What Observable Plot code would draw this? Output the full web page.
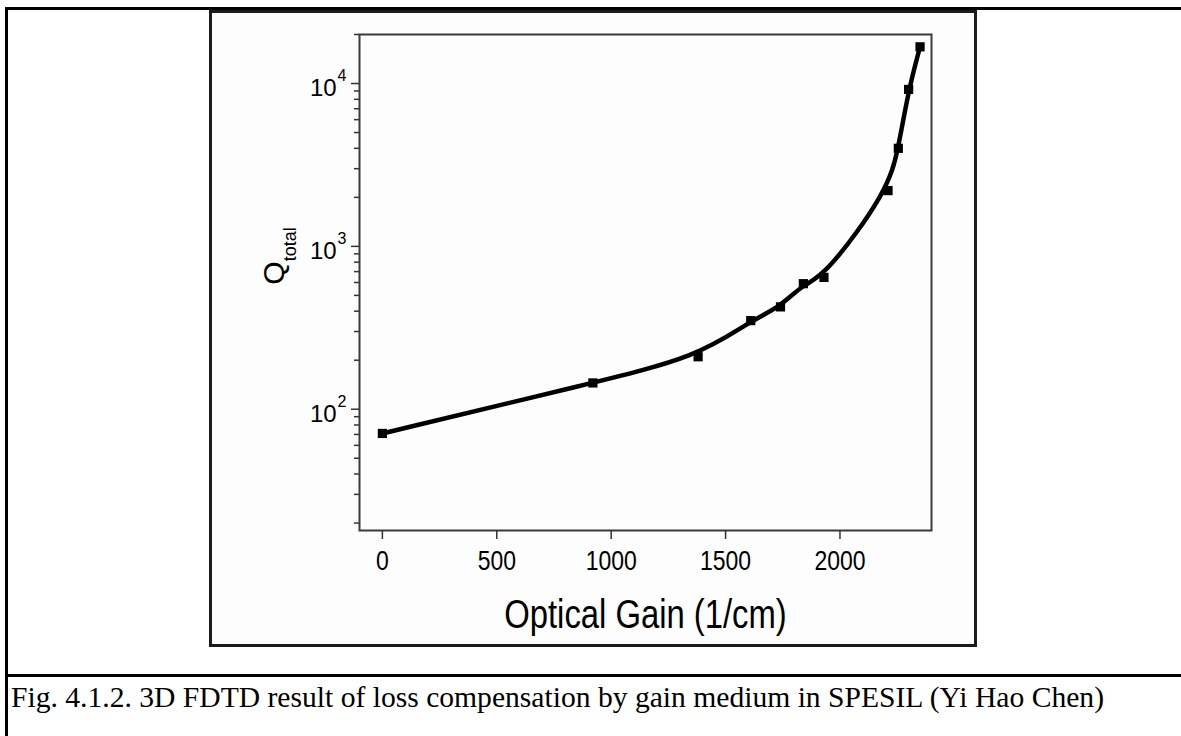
<!DOCTYPE html>
<html><head><meta charset="utf-8">
<script src="https://cdn.jsdelivr.net/npm/d3@7"></script>
<script src="https://cdn.jsdelivr.net/npm/@observablehq/plot@0.6"></script>
<style>
html,body{margin:0;padding:0;background:#fff;width:1181px;height:736px;overflow:hidden;position:relative}
.ln{position:absolute;background:#000}
#box{position:absolute;left:209px;top:10px;width:762px;height:631px;border:3px solid #1c1c1c;background:#fdfdfd}
#chart{position:absolute;left:0;top:0}
#caption{position:absolute;left:11px;top:681px;font-family:"Liberation Serif","Times New Roman",serif;font-size:29.6px;color:#000;white-space:nowrap}
</style></head><body>
<div class="ln" style="left:5px;top:7px;width:1176px;height:3px"></div>
<div class="ln" style="left:5px;top:7px;width:3px;height:729px"></div>
<div id="box"></div>
<div class="ln" style="left:5px;top:674px;width:1176px;height:3px"></div>
<div id="chart"></div>
<div id="caption">Fig. 4.1.2. 3D FDTD result of loss compensation by gain medium in SPESIL (Yi Hao Chen)</div>
<script>
// Data
const gain = [0, 920, 1380, 1610, 1740, 1840, 1930, 2210, 2255, 2300, 2350];
const qTotal = [71, 145, 210, 350, 425, 590, 645, 2200, 4000, 9200, 16800];
const xTicks = [0, 500, 1000, 1500, 2000];
const yMajorTicks = [100, 1000, 10000];
const yMinorTicks = [20, 30, 40, 50, 60, 70, 80, 90, 200, 300, 400, 500, 600, 700, 800, 900, 2000, 3000, 4000, 5000, 6000, 7000, 8000, 9000, 20000];
const xLabel = "Optical Gain (1/cm)";
const yLabelMain = "Q";
const yLabelSub = "total";

const data = gain.map((g, i) => ({gain: g, q: qTotal[i]}));
const FONT = '"Liberation Sans",Arial,sans-serif';

const svg = Plot.plot({
  width: 1181, height: 736,
  marginLeft: 359, marginRight: 250, marginTop: 34, marginBottom: 206,
  style: {background: "transparent", fontFamily: FONT, overflow: "visible", color: "#000"},
  x: {domain: [-100, 2400]},
  y: {type: "log", domain: [18, 20000]},
  marks: [
    Plot.frame({stroke: "#3a3a3a", strokeWidth: 2}),
    Plot.axisY(yMinorTicks, {tickSize: 5, fill: "none", label: null, stroke: "#333", strokeWidth: 1.5}),
    Plot.axisY(yMajorTicks, {tickSize: 8, tickPadding: 5, stroke: "#333", strokeWidth: 1.5, fontSize: 24, tickFormat: d => String(Math.round(Math.log10(d))), label: null}),
    Plot.axisX(xTicks, {tickSize: 9, tickPadding: 11, stroke: "#333", strokeWidth: 1.5, fontSize: 28, tickFormat: d => String(d), label: xLabel, labelAnchor: "center", labelOffset: 97, labelArrow: "none"}),
    Plot.line(data, {x: "gain", y: "q", curve: "basis", stroke: "#000", strokeWidth: 4.5}),
    Plot.dot(data, {x: "gain", y: "q", symbol: "square", fill: "#000", stroke: "none", r: 5.2})
  ]
});
document.getElementById("chart").appendChild(svg);

const s = d3.select(svg);
// narrow (condensed) look of the original chart font for x texts
s.selectAll('[aria-label="x-axis tick label"] text, [aria-label="x-axis label"] text')
  .attr("font-size", function() { return this.parentNode.getAttribute("aria-label") === "x-axis label" ? 40 : null; })
  .each(function() {
    if (this.parentNode.getAttribute("aria-label") === "x-axis label") this.style.fontSize = "40px";
    const w = this.getComputedTextLength();
    if (w > 0) {
      this.setAttribute("textLength", (w * 0.82).toFixed(1));
      this.setAttribute("lengthAdjust", "spacingAndGlyphs");
    }
  });
s.selectAll('[aria-label="y-axis tick label"] text').each(function() {
  const t = d3.select(this);
  const e = t.text();
  t.text(null);
  t.append("tspan").attr("dy", 5).text("10");
  t.append("tspan").attr("dy", -15).attr("dx", 1).attr("font-size", "16px").text(e);
});
const yl = s.append("text")
  .attr("transform", "translate(284,256) rotate(-90)")
  .attr("text-anchor", "middle")
  .attr("font-size", 30)
  .attr("fill", "#000");
yl.append("tspan").text(yLabelMain);
yl.append("tspan").attr("dy", 12).attr("font-size", 18).text(yLabelSub);
</script>
</body></html>
